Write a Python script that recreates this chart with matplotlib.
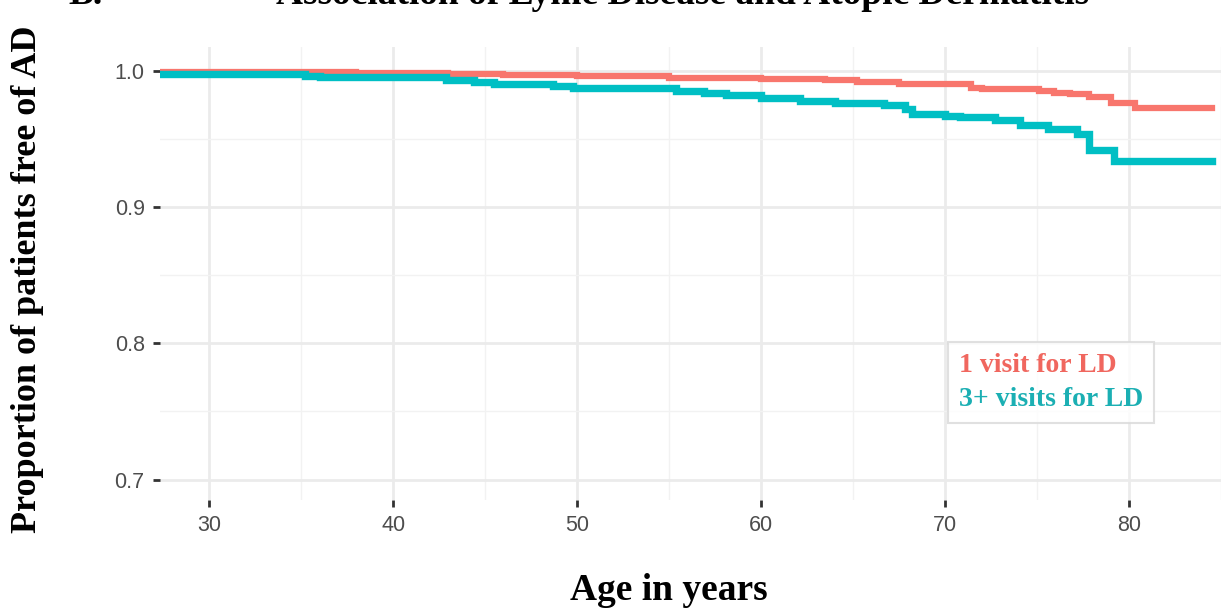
import numpy as np
import matplotlib
matplotlib.use("Agg")
import matplotlib.pyplot as plt
from matplotlib.lines import Line2D

# --- Data ---
ages_1visit = [27.3, 33.0, 38.0, 43.0, 46.0, 50.0, 52.0, 55.0, 57.0, 60.0, 63.5,
               65.2, 67.5, 68.9, 71.4, 72.0, 75.1, 75.9, 76.8, 77.8, 79.0, 80.3, 84.5]
surv_1visit = [0.9995, 0.999, 0.9985, 0.998, 0.997, 0.9965, 0.996, 0.995, 0.9945,
               0.994, 0.9935, 0.992, 0.9905, 0.990, 0.9875, 0.9865, 0.9855, 0.984,
               0.983, 0.981, 0.9765, 0.9725, 0.9725]

ages_3visits = [27.3, 35.2, 36.0, 42.9, 44.4, 45.5, 48.7, 49.8, 55.4, 56.9, 58.1,
                60.0, 62.1, 64.0, 66.7, 67.8, 68.2, 70.0, 70.8, 72.7, 74.1, 75.6,
                77.2, 77.8, 79.2, 84.5]
surv_3visits = [0.9975, 0.9965, 0.9955, 0.9935, 0.9918, 0.9905, 0.9892, 0.9875,
                0.985, 0.984, 0.982, 0.980, 0.978, 0.9766, 0.975, 0.972, 0.9686,
                0.967, 0.9662, 0.9638, 0.9606, 0.9572, 0.9534, 0.942, 0.934, 0.934]

labels = ["1 visit for LD", "3+ visits for LD"]
colors = ["#F8766D", "#00BFC4"]
text_colors = ["#F0675F", "#1BAFB3"]
x_ticks = [30, 40, 50, 60, 70, 80]
y_ticks = [0.7, 0.8, 0.9, 1.0]

serif = ["Liberation Serif", "DejaVu Serif"]
sans = ["Liberation Sans", "DejaVu Sans"]

fig = plt.figure(figsize=(12.21, 6.11), dpi=100)
ax = fig.add_axes([160 / 1221, 1 - 500 / 611, 1061 / 1221, 453 / 611])

ax.step(ages_1visit, surv_1visit, where="post", color=colors[0], lw=4.5,
        solid_joinstyle="miter", zorder=3)
ax.step(ages_3visits, surv_3visits, where="post", color=colors[1], lw=5.3,
        solid_joinstyle="miter", zorder=3)

ax.set_xlim(27.33, 84.0)
ax.set_ylim(0.685, 1.0175)
ax.set_xticks(x_ticks)
ax.set_yticks(y_ticks)
ax.set_xticks([35, 45, 55, 65, 75, 85], minor=True)
ax.set_yticks([0.75, 0.85, 0.95], minor=True)
ax.set_yticklabels([f"{v:.1f}" for v in y_ticks])

ax.grid(which="major", color="#EBEBEB", lw=2.0)
ax.grid(which="minor", color="#F2F2F2", lw=1.0)
ax.set_axisbelow(True)
for s in ax.spines.values():
    s.set_visible(False)
ax.tick_params(which="major", length=5, width=2, color="#333333",
               labelsize=15.5, labelcolor="#4D4D4D", pad=6)
ax.tick_params(which="minor", length=0)
for lab in ax.get_xticklabels() + ax.get_yticklabels():
    lab.set_family(sans)

handles = [Line2D([], [], color=c, lw=0) for c in colors]
leg = ax.legend(handles, labels, loc="upper left", bbox_to_anchor=(0.7427, 0.349),
                handlelength=0, handletextpad=0, labelcolor=text_colors,
                prop={"family": serif, "weight": "bold", "size": 20},
                frameon=True, fancybox=False, borderpad=0.4, labelspacing=0.3,
                borderaxespad=0)
leg.get_frame().set_edgecolor("#D9D9D9")
leg.get_frame().set_linewidth(1.5)

fig.text(683 / 1221, 1 - 4 / 611, "Association of Lyme Disease and Atopic Dermatitis",
         ha="center", va="baseline", family=serif, weight="bold", fontsize=27)
fig.text(68 / 1221, 1 - 4 / 611, "B.", ha="left", va="baseline",
         family=serif, weight="bold", fontsize=27)
fig.text(669 / 1221, 11 / 611, "Age in years", ha="center", va="baseline",
         family=serif, weight="bold", fontsize=27)
fig.text(28 / 1221, 1 - 279 / 611, "Proportion of patients free of AD", ha="center",
         va="center", rotation=90, family=serif, weight="bold", fontsize=26)

fig.savefig("out.png", dpi=100)
